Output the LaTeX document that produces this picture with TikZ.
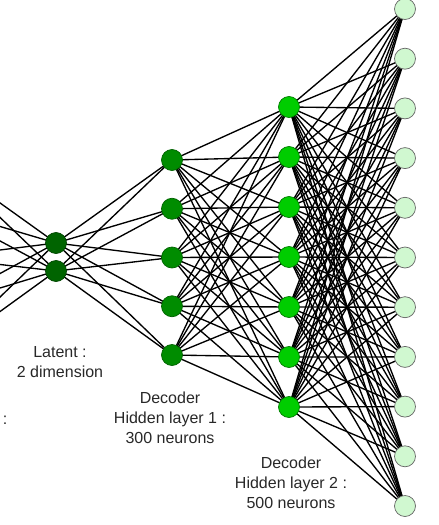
\documentclass[tikz,border=0pt]{standalone}
\usepackage{fontspec}
\setmainfont{Liberation Sans}
\definecolor{latentgreen}{RGB}{0, 100, 0}
\definecolor{hiddenone}{RGB}{0, 140, 0}
\definecolor{hiddentwo}{RGB}{0, 205, 0}
\definecolor{outgreen}{RGB}{208, 248, 208}
\definecolor{labelgray}{RGB}{40, 40, 40}
\usepackage{tikz}
\usetikzlibrary{backgrounds}

\begin{document}
\begin{tikzpicture}[x=1pt, y=-1pt,
  neuron/.style={circle, minimum size=21pt, inner sep=0pt, line width=0.7pt},
  link/.style={black, line width=1.35pt},
  layerlabel/.style={align=center, text=labelgray, font=\fontsize{16}{20}\selectfont}]
  \useasboundingbox (0, 0) rectangle (439, 525);
  \clip (0, 0) rectangle (439, 525);

  % Encoder layer (outside the picture)
  \foreach \i/\y in {1/160, 2/208.75, 3/257.5, 4/306.25, 5/355}
    \coordinate (enc\i) at (-60, \y);

  % Latent
  \foreach \i/\y in {1/243, 2/271}
    \node[neuron, fill=latentgreen, draw=latentgreen!70!black] (lat\i) at (56, \y) {};

  % Decoder hidden layer 1
  \foreach \i/\y in {1/160, 2/208.75, 3/257.5, 4/306.25, 5/355}
    \node[neuron, fill=hiddenone, draw=hiddenone!70!black] (hone\i) at (172, \y) {};

  % Decoder hidden layer 2
  \foreach \i in {1,...,7}
    \node[neuron, fill=hiddentwo, draw=hiddentwo!60!black] (htwo\i) at (289, 57 + 50*\i) {};

  % Output
  \foreach \i in {1,...,11}
    \node[neuron, fill=outgreen, draw=black!60] (out\i) at (405, 9 + 49.7*\i - 49.7) {};

  % Connections
  \begin{scope}[on background layer]
    \foreach \a in {1,...,5}
      \foreach \b in {1,2}
        \draw[link] (enc\a) -- (lat\b.center);
    \foreach \a in {1,2}
      \foreach \b in {1,...,5}
        \draw[link] (lat\a.center) -- (hone\b.center);
    \foreach \a in {1,...,5}
      \foreach \b in {1,...,7}
        \draw[link] (hone\a.center) -- (htwo\b.center);
    \foreach \a in {1,...,7}
      \foreach \b in {1,...,11}
        \draw[link] (htwo\a.center) -- (out\b.center);
  \end{scope}

  % Labels
  \node[layerlabel] (latlabel) at (60, 362) {Latent :\\2 dimension};
  \node[layerlabel] (honelabel) at (170, 418) {Decoder\\Hidden layer 1 :\\300 neurons};
  \node[layerlabel] (htwolabel) at (291, 483) {Decoder\\Hidden layer 2 :\\500 neurons};
  \node[layerlabel] (enclabel) at (5, 420) {:};
\end{tikzpicture}
\end{document}
